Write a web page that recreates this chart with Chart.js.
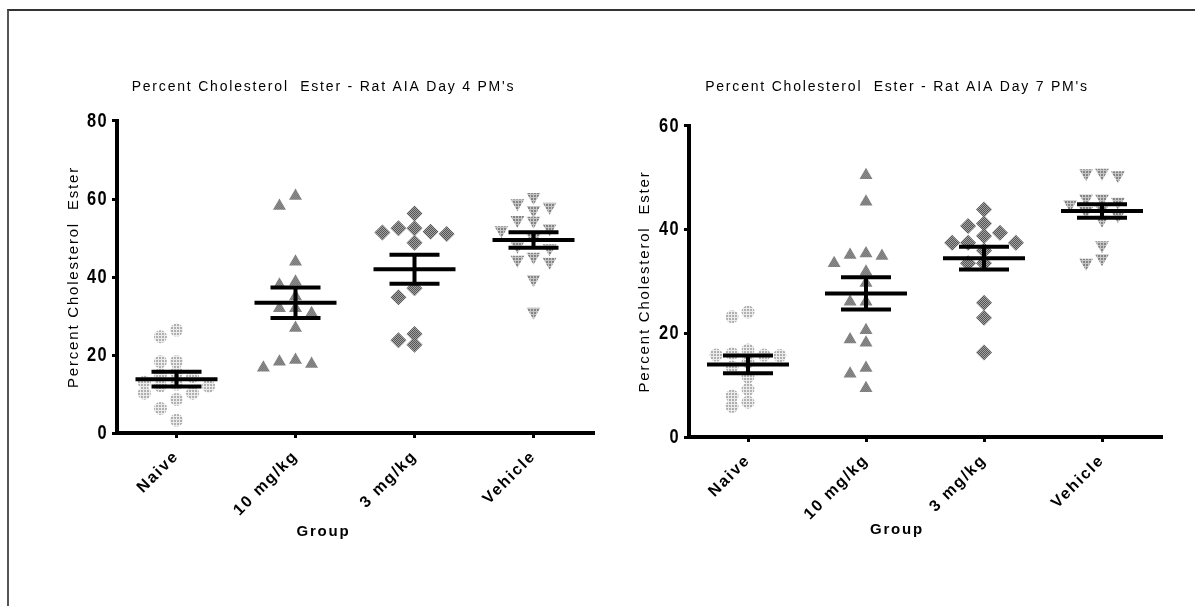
<!DOCTYPE html>
<html>
<head>
<meta charset="utf-8">
<script src="https://cdn.jsdelivr.net/npm/chart.js@4.4.1/dist/chart.umd.min.js"></script>
<style>
  html, body { margin: 0; padding: 0; background: #fff; }
  body { width: 1195px; height: 606px; position: relative; overflow: hidden; }
  #frame { position: absolute; left: 7px; top: 9px; right: -10px; bottom: -10px;
           border-top: 2px solid #333; border-left: 2px solid #555; }
  canvas { position: absolute; top: 0; }
  #day4 { left: 0; }
  #day7 { left: 597px; }
</style>
</head>
<body>
<div id="frame"></div>
<canvas id="day4" width="597" height="606"></canvas>
<canvas id="day7" width="598" height="606"></canvas>
<script>
const groups = ['Naive', '10 mg/kg', '3 mg/kg', 'Vehicle'];

// Day 4 – % cholesterol ester, one value per animal
const day4Naive = [26.4, 24.7, 18.3, 18.3, 15.5, 15.0, 14.5, 13.0, 12.5, 12.1, 12.0, 10.2, 10.2, 8.6, 6.3, 3.3];
const day4Dose10 = [60.8, 58.2, 43.9, 38.8, 38.0, 35.0, 32.0, 32.0, 30.7, 26.9, 18.7, 18.3, 17.7, 16.7];
const day4Dose3 = [56.3, 52.5, 52.5, 51.6, 51.4, 51.0, 48.8, 37.1, 34.8, 25.4, 23.8, 22.6];
const day4Vehicle = [60.5, 58.9, 58.0, 57.2, 54.6, 54.4, 52.5, 52.0, 50.0, 48.0, 47.4, 45.2, 44.4, 43.9, 39.4, 31.1];
const day4Mean = [13.8, 33.4, 42.0, 49.5];
const day4Sem = [1.9, 3.9, 3.7, 2.0];
const day4Ticks = [0, 20, 40, 60, 80];

// Day 7
const day7Naive = [24.1, 23.2, 16.8, 16.1, 15.8, 15.8, 15.7, 14.5, 13.5, 11.6, 9.2, 7.9, 6.7, 5.9];
const day7Dose10 = [50.5, 45.4, 35.4, 35.1, 34.9, 33.5, 31.9, 29.7, 26.1, 26.1, 20.6, 18.8, 18.2, 13.3, 12.2, 9.4];
const day7Dose3 = [43.9, 41.2, 40.7, 39.4, 38.8, 37.5, 37.5, 37.5, 36.0, 33.5, 33.5, 25.9, 23.0, 16.3];
const day7Vehicle = [51.0, 50.9, 50.5, 46.0, 46.0, 45.4, 44.9, 44.0, 43.6, 42.8, 41.9, 37.0, 34.5, 33.6];
const day7Mean = [14.0, 27.7, 34.5, 43.6];
const day7Sem = [1.7, 3.1, 2.2, 1.3];
const day7Ticks = [0, 20, 40, 60];

const FONT = 'Liberation Sans, Arial, sans-serif';

// small dithered fills so the markers look like the old bitmap symbols
function pattern(size, on, off, isOn) {
  const c = document.createElement('canvas');
  c.width = c.height = size;
  const g = c.getContext('2d');
  for (let y = 0; y < size; y++) {
    for (let x = 0; x < size; x++) {
      g.fillStyle = isOn(x, y) ? on : off;
      g.fillRect(x, y, 1, 1);
    }
  }
  return g.createPattern(c, 'repeat');
}
const grid3 = (x, y) => x % 3 !== 2 && y % 3 !== 2;
const checker = (x, y) => (x + y) % 2 === 0;
const naiveFill = pattern(3, '#b0b0b0', '#ececec', grid3);
const dose10Fill = pattern(2, '#787878', '#8c8c8c', checker);
const dose3Fill = pattern(2, '#555555', '#a2a2a2', checker);
const vehicleFill = pattern(3, '#858585', '#c6c6c6', grid3);

// spread animals with close values sideways, GraphPad style
function swarm(values, groupIndex, minGap) {
  const slots = [0, -1, 1, -2, 2, -3, 3];
  const placed = [];
  return values.slice().sort((a, b) => b - a).map(v => {
    let slot = slots.find(s => !placed.some(p => p.slot === s && Math.abs(p.y - v) < minGap));
    if (slot === undefined) slot = 0;
    placed.push({ slot, y: v });
    return { x: groupIndex + slot * 0.135, y: v };
  });
}

// wide letter spacing everywhere; the y numbers use a squeezed bold face
const textStyle = {
  id: 'textStyle',
  beforeDraw(chart) {
    chart.ctx.letterSpacing = '1.8px';
    const y = chart.scales.y;
    if (!Object.prototype.hasOwnProperty.call(y, 'drawLabels')) {
      const base = y.drawLabels;
      y.drawLabels = function (area) {
        const ctx = this.ctx;
        const edge = this.right - this.options.grid.tickLength - this.options.ticks.padding;
        ctx.save();
        ctx.setTransform(0.78, 0, 0, 1, edge * 0.22, 0);
        base.call(this, area);
        ctx.restore();
      };
    }
  }
};

function makeChart(id, cfg) {
  const gap = cfg.max * 0.033;
  const markers = [
    { data: cfg.series[0], style: 'circle', r: 6.5, fill: naiveFill, rot: 0 },
    { data: cfg.series[1], style: 'triangle', r: 7.5, fill: dose10Fill, rot: 0 },
    { data: cfg.series[2], style: 'rectRot', r: 8, fill: dose3Fill, rot: 0 },
    { data: cfg.series[3], style: 'triangle', r: 8, fill: vehicleFill, rot: 180 }
  ];

  const datasets = [
    {
      label: 'mean',
      data: cfg.mean.map((m, i) => ({ x: i, y: m })),
      pointStyle: 'line', pointRadius: 41, pointBorderWidth: 4, pointBorderColor: '#000'
    },
    {
      label: 'sem caps',
      data: cfg.mean.flatMap((m, i) => [{ x: i, y: m + cfg.sem[i] }, { x: i, y: m - cfg.sem[i] }]),
      pointStyle: 'line', pointRadius: 25, pointBorderWidth: 4, pointBorderColor: '#000'
    },
    {
      label: 'sem',
      data: cfg.mean.flatMap((m, i) => [{ x: i, y: m - cfg.sem[i] }, { x: i, y: m + cfg.sem[i] }, { x: i, y: null }]),
      showLine: true, borderWidth: 4, borderColor: '#000', pointRadius: 0, spanGaps: false
    }
  ];
  markers.forEach((mk, i) => {
    datasets.push({
      label: groups[i],
      data: swarm(mk.data, i, gap),
      pointStyle: mk.style,
      pointRadius: mk.r,
      pointRotation: mk.rot,
      pointBackgroundColor: mk.fill,
      pointBorderWidth: 0
    });
  });

  return new Chart(document.getElementById(id), {
    type: 'scatter',
    data: { datasets },
    plugins: [textStyle],
    options: {
      responsive: false,
      animation: false,
      devicePixelRatio: 1,
      layout: { padding: cfg.padding, autoPadding: false },
      plugins: {
        legend: { display: false },
        tooltip: { enabled: false },
        title: {
          display: true,
          text: cfg.title,
          color: '#000',
          font: { family: FONT, size: 14, weight: 'normal' },
          padding: cfg.titlePad
        },
        subtitle: {
          display: true,
          position: 'bottom',
          text: 'Group',
          color: '#000',
          font: { family: FONT, size: 15, weight: 'bold' },
          padding: cfg.groupPad
        }
      },
      scales: {
        x: {
          type: 'linear',
          min: -0.5,
          max: 3.5,
          afterBuildTicks: s => { s.ticks = groups.map((g, i) => ({ value: i })); },
          afterFit: s => { s.height = cfg.xHeight; },
          ticks: {
            callback: v => groups[v],
            autoSkip: false,
            minRotation: 45,
            maxRotation: 45,
            padding: 9,
            color: '#000',
            font: { family: FONT, size: 16, weight: 'bold' }
          },
          grid: { drawOnChartArea: false, color: '#000', lineWidth: 3, tickLength: 5 },
          border: { color: '#000', width: 4 }
        },
        y: {
          min: 0,
          max: cfg.max,
          afterBuildTicks: s => { s.ticks = cfg.ticks.map(v => ({ value: v })); },
          afterFit: s => { s.width = cfg.yWidth; },
          ticks: {
            padding: 4,
            color: '#000',
            font: { family: FONT, size: 21, weight: 'bold' }
          },
          grid: { drawOnChartArea: false, color: '#000', lineWidth: 3, tickLength: 5 },
          border: { color: '#000', width: 4 },
          title: {
            display: true,
            text: 'Percent Cholesterol  Ester',
            color: '#000',
            font: { family: FONT, size: 15 },
            padding: { top: cfg.yTitleTop, bottom: 0 }
          }
        }
      }
    }
  });
}

makeChart('day4', {
  title: "Percent Cholesterol  Ester - Rat AIA Day 4 PM's",
  series: [day4Naive, day4Dose10, day4Dose3, day4Vehicle],
  mean: day4Mean,
  sem: day4Sem,
  max: 80,
  ticks: day4Ticks,
  padding: { left: 54, right: 4, top: 0, bottom: 0 },
  titlePad: { top: 78.6, bottom: 25.6 },
  groupPad: { top: -10.3, bottom: 65.3 },
  xHeight: 100,
  yWidth: 63,
  yTitleTop: 11
});

makeChart('day7', {
  title: "Percent Cholesterol  Ester - Rat AIA Day 7 PM's",
  series: [day7Naive, day7Dose10, day7Dose3, day7Vehicle],
  mean: day7Mean,
  sem: day7Sem,
  max: 60,
  ticks: day7Ticks,
  padding: { left: 36, right: 34, top: 0, bottom: 0 },
  titlePad: { top: 79.1, bottom: 30.1 },
  groupPad: { top: -12, bottom: 67 },
  xHeight: 96,
  yWidth: 56,
  yTitleTop: 3
});
</script>
</body>
</html>
